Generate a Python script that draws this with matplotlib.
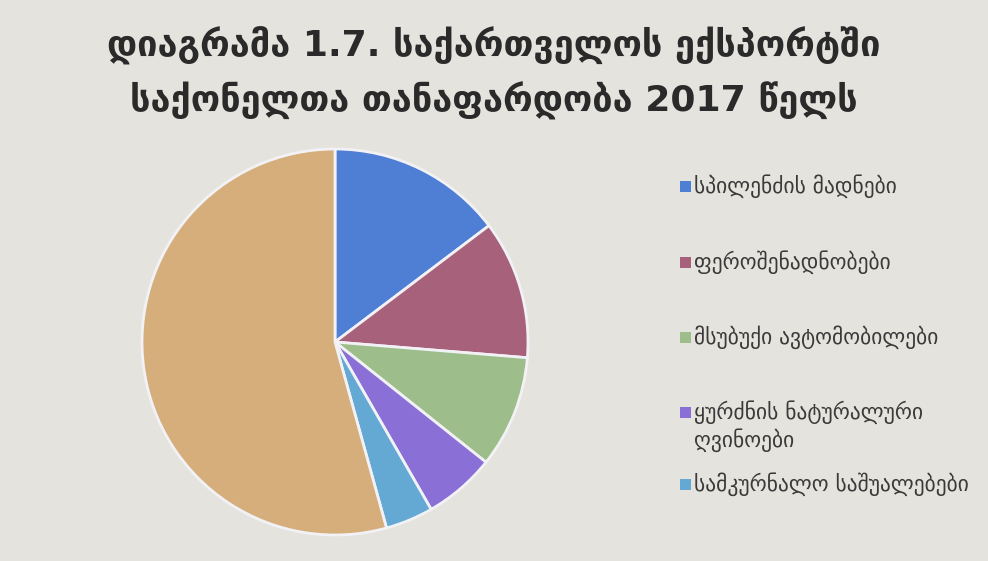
import matplotlib.pyplot as plt
from matplotlib.patches import Rectangle

# export shares, percent (clockwise from 12 o'clock)
categories = [
    'სპილენძის მადნები',
    'ფეროშენადნობები',
    'მსუბუქი ავტომობილები',
    'ყურძნის ნატურალური\nღვინოები',
    'სამკურნალო საშუალებები',
]
shares = [14.7, 11.6, 9.4, 6.0, 4.0]
other_share = 100 - sum(shares)

colors = ['#4f7ed5', '#a8617a', '#9dbd8b', '#8a70d6', '#63a9d4']
other_color = '#d5ae7c'
bg = '#e5e3dd'

plt.rcParams['font.family'] = ['DejaVu Sans']

W, H = 988, 561
fig = plt.figure(figsize=(W / 100, H / 100), dpi=100, facecolor=bg)

fig.text(0.5, 0.918, 'დიაგრამა 1.7. საქართველოს ექსპორტში',
         ha='center', va='center', fontsize=26, fontweight='bold', color='#2a2a2a')
fig.text(0.5, 0.820, 'საქონელთა თანაფარდობა 2017 წელს',
         ha='center', va='center', fontsize=26, fontweight='bold', color='#2a2a2a')

# pie axes: centre ~ (335, 342) px, radius ~ 193 px
r_px = 193
ax = fig.add_axes([(335 - r_px) / W, 1 - (342 + r_px) / H, 2 * r_px / W, 2 * r_px / H])
ax.pie(shares + [other_share], colors=colors + [other_color],
       startangle=90, counterclock=False,
       wedgeprops=dict(edgecolor='#f2f2f6', linewidth=2))
ax.set_xlim(-1, 1)
ax.set_ylim(-1, 1)
ax.axis('off')

# legend, laid out by hand in pixel positions
legend_y = [186, 262, 337, 412, 484]
for label, color, y in zip(categories, colors, legend_y):
    fig.patches.append(Rectangle((680 / W, 1 - (y + 6) / H), 11 / W, 11 / H,
                                 transform=fig.transFigure, facecolor=color,
                                 edgecolor='none'))
    if '\n' in label:
        fig.text(694 / W, 1 - (y - 12) / H, label, ha='left', va='top',
                 fontsize=15.5, color='#3a3a3a', linespacing=1.25)
    else:
        fig.text(694 / W, 1 - y / H, label, ha='left', va='center',
                 fontsize=15.5, color='#3a3a3a')

fig.savefig('out.png', dpi=100, facecolor=bg)
